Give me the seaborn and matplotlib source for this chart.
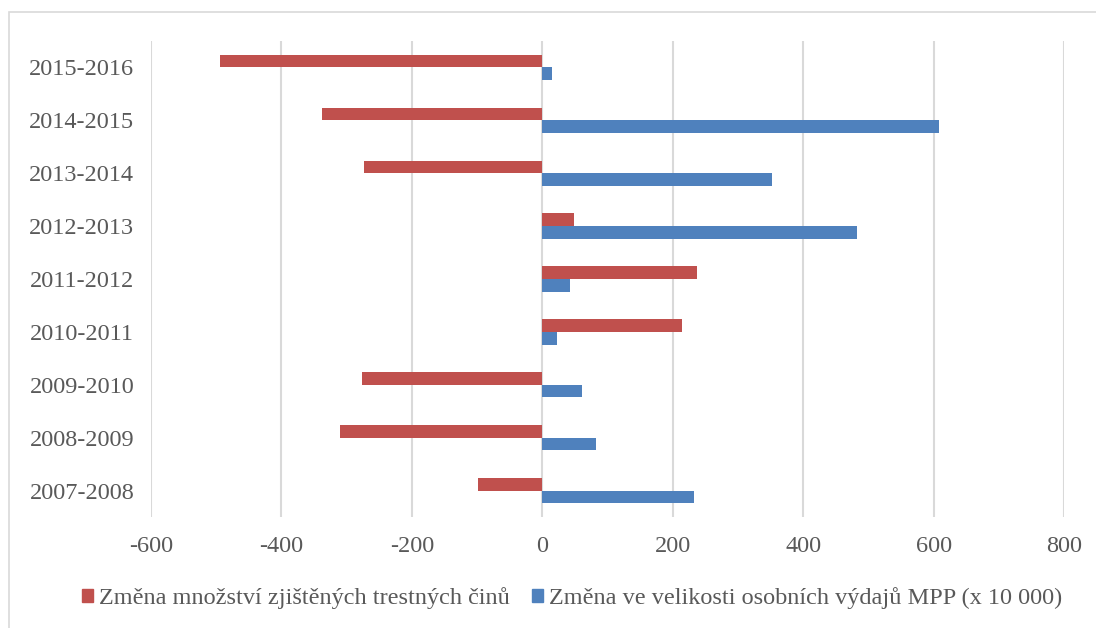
import pandas as pd
import numpy as np
import matplotlib
matplotlib.use("Agg")
import matplotlib.pyplot as plt
import matplotlib.patches as mpatches
import seaborn as sns

periods = ['2015-2016', '2014-2015', '2013-2014', '2012-2013', '2011-2012',
           '2010-2011', '2009-2010', '2008-2009', '2007-2008']
crimes = [-494, -338, -273, 49, 238, 215, -276, -310, -98]
spending = [15, 608, 353, 483, 42, 22, 61, 83, 233]

crime_label = 'Změna množství zjištěných trestných činů'
spend_label = 'Změna ve velikosti osobních výdajů MPP (x 10 000)'

df = pd.DataFrame({
    'period': periods * 2,
    'value': crimes + spending,
    'series': [crime_label] * len(periods) + [spend_label] * len(periods),
})

sns.set_style('white')
plt.rcParams['font.family'] = ['Liberation Serif', 'DejaVu Serif']
plt.rcParams['axes.unicode_minus'] = False
grey = '#595959'
red = '#C0504D'
blue = '#4F81BD'

fig = plt.figure(figsize=(10.96, 6.28), dpi=100)
ax = fig.add_axes([151 / 1096, 1 - 517 / 628, (1064 - 151) / 1096, (517 - 41) / 628])

sns.barplot(data=df, x='value', y='period', hue='series', order=periods,
            hue_order=[crime_label, spend_label],
            palette=[red, blue], saturation=1, orient='h', width=0.48,
            edgecolor='none', ax=ax)

ax.set_xlim(-600, 800)
ax.set_xticks(np.arange(-600, 801, 200))
ax.set_xlabel('')
ax.set_ylabel('')
ax.xaxis.grid(True, color='#D9D9D9', linewidth=1.5)
ax.yaxis.grid(False)
ax.set_axisbelow(True)
for s in ax.spines.values():
    s.set_visible(False)
ax.tick_params(axis='both', length=0, labelsize=17.5, colors=grey)
ax.tick_params(axis='y', pad=12)
ax.tick_params(axis='x', pad=14)

handles = [mpatches.Patch(color=red, label=crime_label),
           mpatches.Patch(color=blue, label=spend_label)]
ax.get_legend().remove()
fig.legend(handles=handles, loc='center', bbox_to_anchor=(572 / 1096, 1 - 598 / 628),
           ncol=2, frameon=False, fontsize=17.5, labelcolor=grey,
           handlelength=0.45, handleheight=0.45, handletextpad=0.25,
           columnspacing=0.9)

# thin chart border like the original
border = mpatches.Rectangle((9 / 1096, -0.1), 1.2, 1 - 12 / 628 + 0.1,
                            transform=fig.transFigure, fill=False,
                            edgecolor='#D9D9D9', linewidth=1.2, clip_on=False)
fig.patches.append(border)

fig.savefig('out.png', dpi=100)
